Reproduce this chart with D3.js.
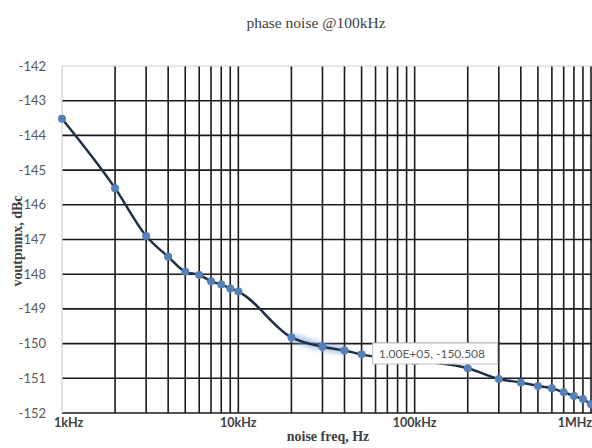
<!DOCTYPE html>
<html>
<head>
<meta charset="utf-8">
<script src="https://cdn.jsdelivr.net/npm/d3@7"></script>
<style>
  body { margin: 0; background: #fff; }
  svg { display: block; }
</style>
</head>
<body>
<svg id="chart" width="592" height="448"></svg>
<script>
const freqs = [1e3, 2e3, 3e3, 4e3, 5e3, 6e3, 7e3, 8e3, 9e3, 1e4,
               2e4, 3e4, 4e4, 5e4, 6e4, 7e4, 8e4, 9e4, 1e5,
               2e5, 3e5, 4e5, 5e5, 6e5, 7e5, 8e5, 9e5, 1e6]
const noise = [-143.52, -145.52, -146.9, -147.5, -147.93, -148.02, -148.2, -148.3, -148.41, -148.5,
               -149.82, -150.09, -150.2, -150.31, -150.38, -150.43, -150.46, -150.49, -150.508,
               -150.71, -151.02, -151.12, -151.22, -151.29, -151.4, -151.51, -151.6, -151.75]
const yTicks = d3.range(-152, -141, 1)
const xTickValues = [1e3, 1e4, 1e5, 1e6]
const xTickLabels = ["1kHz", "10kHz", "100kHz", "1MHz"]
const tooltipIndex = 18

const svg = d3.select("#chart")
const W = 592, H = 448

const x = d3.scaleLog().domain([1e3, 1e6]).range([62, 591])
const y = d3.scaleLinear().domain([-152, -142]).range([413, 66])

// vertical grid: every 1..9 x decade
const vGrid = d3.range(3).flatMap(d => d3.range(1, 10).map(m => m * Math.pow(10, d + 3))).concat([1e6])
svg.append("g").selectAll("line")
  .data(vGrid.filter(v => v > 1e3))
  .join("line")
    .attr("x1", d => x(d)).attr("x2", d => x(d))
    .attr("y1", y(-142)).attr("y2", y(-152))
    .attr("stroke", "#1a1a1a").attr("stroke-width", 1.6)

// horizontal grid
svg.append("g").selectAll("line")
  .data(yTicks)
  .join("line")
    .attr("x1", x(1e3)).attr("x2", W)
    .attr("y1", d => y(d)).attr("y2", d => y(d))
    .attr("stroke", d => d === -142 ? "#d0d0d0" : "#1a1a1a")
    .attr("stroke-width", d => d === -142 ? 1 : 1.6)

// left axis line
svg.append("line")
  .attr("x1", x(1e3)).attr("x2", x(1e3))
  .attr("y1", y(-142)).attr("y2", y(-152))
  .attr("stroke", "#d0d0d0").attr("stroke-width", 1.2)

// y tick labels
svg.append("g").selectAll("text")
  .data(yTicks)
  .join("text")
    .attr("x", 46).attr("y", d => y(d))
    .attr("dy", "0.35em")
    .attr("text-anchor", "end")
    .attr("font-family", "Lato, sans-serif").attr("font-size", 13)
    .attr("fill", "#595959")
    .text(d => d)

// x tick labels (clamped inside the page like the original)
svg.append("g").selectAll("text")
  .data(xTickValues)
  .join("text")
    .attr("x", (d, i) => i === 0 ? x(d) - 8 : i === xTickValues.length - 1 ? W : x(d))
    .attr("y", 427)
    .attr("text-anchor", (d, i) => i === 0 ? "start" : i === xTickValues.length - 1 ? "end" : "middle")
    .attr("font-family", "Lato, sans-serif").attr("font-size", 12.5).attr("font-weight", "bold")
    .attr("fill", "#404040")
    .text((d, i) => xTickLabels[i])

// titles
svg.append("text")
  .attr("x", 316).attr("y", 28)
  .attr("text-anchor", "middle")
  .attr("font-family", "'Liberation Serif', 'DejaVu Serif', serif").attr("font-size", 15.5)
  .attr("fill", "#404040")
  .text("phase noise @100kHz")

svg.append("text")
  .attr("x", 328).attr("y", 441)
  .attr("text-anchor", "middle")
  .attr("font-family", "'Liberation Serif', serif").attr("font-size", 14).attr("font-weight", "bold")
  .attr("fill", "#404040")
  .text("noise freq, Hz")

svg.append("text")
  .attr("transform", "translate(22,241) rotate(-90)")
  .attr("text-anchor", "middle")
  .attr("font-family", "'Liberation Serif', serif").attr("font-size", 14).attr("font-weight", "bold")
  .attr("fill", "#404040")
  .text("voutpnmx, dBc")

// data
const pts = freqs.map((f, i) => [f, noise[i]])

const defs = svg.append("defs")
defs.append("filter").attr("id", "glow")
  .attr("x", "-20%").attr("y", "-50%").attr("width", "140%").attr("height", "200%")
  .append("feGaussianBlur").attr("stdDeviation", 2.5)

const line = d3.line().curve(d3.curveMonotoneX).x(d => x(d[0])).y(d => y(d[1]))

// hover glow around the selected stretch
svg.append("path")
  .datum(pts.slice(10, 13))
  .attr("d", line)
  .attr("fill", "none")
  .attr("stroke", "#7fa6d6").attr("stroke-width", 7).attr("stroke-opacity", 0.7)
  .attr("filter", "url(#glow)")

svg.append("path")
  .datum(pts)
  .attr("d", line)
  .attr("fill", "none")
  .attr("stroke", "#1f2f45").attr("stroke-width", 2.5)

svg.append("g").selectAll("circle")
  .data(pts)
  .join("circle")
    .attr("cx", d => x(d[0])).attr("cy", d => y(d[1]))
    .attr("r", 4)
    .attr("fill", "#5580b8")

// tooltip
const tip = pts[tooltipIndex]
const tipText = d3.format(".2e")(tip[0]).toUpperCase().replace("E+5", "E+05") + ", " + tip[1]
const tg = svg.append("g").attr("transform", `translate(${x(tip[0]) - 42},343)`)
tg.append("rect")
  .attr("width", 125).attr("height", 21)
  .attr("fill", "#fff").attr("stroke", "#bfbfbf").attr("stroke-width", 1)
tg.append("text")
  .attr("x", 6).attr("y", 15)
  .attr("font-family", "Lato, sans-serif").attr("font-size", 12)
  .attr("fill", "#595959")
  .text(tipText)
</script>
</body>
</html>
